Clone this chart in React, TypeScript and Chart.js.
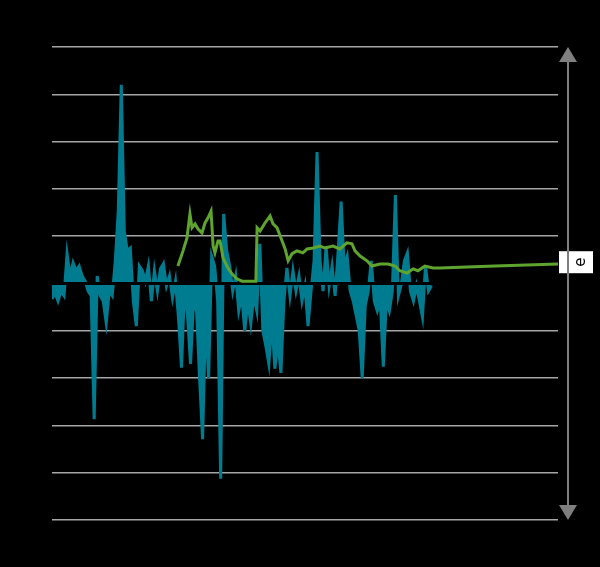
import React, { useEffect, useRef } from "react";
import { Chart, registerables } from "chart.js";

Chart.register(...registerables);

// Teal series: one value per step (x = 0, 1, 2, ...)
const tealValues = [
  -0.33, -0.2, -0.37, -0.16, -0.26, 0.63, 0.16, 0.44, 0.27, 0.37,
  0.16, 0.05, -0.16, -0.26, -2.87, 0.16, -0.26, -0.37, -0.83, -0.16,
  -0.26, 0.47, 1.53, 4.2, 1.11, 0.69, 0.75, -0.37, -0.9, 0.37,
  0.27, 0.05, 0.37, -0.37, 0.27, -0.16, 0.31, 0.42, -0.05, 0.16,
  -0.3, 0.05, -0.73, -1.78, -0.11, -0.68, -1.7, -0.37, -0.58, -2.0,
  -3.29, -0.68, -2.0, 0.58, 0.37, -0.37, -4.13, 1.47, 0.69, 0.37,
  -0.16, 0.16, -0.58, -0.26, -1.0, -0.37, -0.85, -0.26, -0.58, 0.84,
  -1.0, -1.32, -1.7, -0.79, -1.8, -1.21, -1.89, -0.37, 0.33, -0.26,
  0.27, -0.16, 0.16, -0.37, -0.05, -0.9, -0.16, 0.48, 2.78, 0.48,
  -0.16, 0.79, -0.05, 0.37, -0.26, 0.69, 1.73, 0.37, 0.58, -0.16,
  -0.37, -0.68, -1.0, -2.0, -0.47, -0.16, 0.48, -0.37, -0.58, -0.37,
  -1.76, -0.37, -0.58, -0.16, 1.87, -0.26, -0.01, 0.48, 0.65, -0.16,
  -0.37, -0.05, -0.37, -0.71, 0.37, -0.16, -0.05,
];

// Green series: x positions and values
const greenX = [
  41.8, 43.5, 44.8, 45.8, 46.5, 47.5, 48.5, 49.8, 50.8, 51.8, 52.8, 53.5,
  54.1, 55.1, 55.8, 56.8, 58.4, 59.8, 61.4, 63.1, 67.7, 68.1, 69.1, 70.7,
  72.4, 73.4, 74.7, 76.4, 77.4, 78.4, 79.7, 81.3, 83.3, 84.7, 86.7, 89.0,
  90.6, 93.3, 95.6, 97.9, 99.6, 100.6, 102.3, 104.6, 106.2, 108.9, 111.6,
  113.9, 115.5, 117.9, 119.9, 121.5, 123.8, 126.5, 128.8, 147.1, 168,
];
const greenValues = [
  0.37, 0.69, 0.96, 1.47, 1.18, 1.26, 1.15, 1.07, 1.28, 1.39, 1.53, 0.79,
  0.65, 0.9, 0.9, 0.54, 0.33, 0.2, 0.1, 0.05, 0.05, 1.18, 1.11, 1.28,
  1.43, 1.26, 1.18, 0.9, 0.73, 0.48, 0.63, 0.69, 0.65, 0.73, 0.75, 0.79,
  0.75, 0.79, 0.73, 0.86, 0.84, 0.69, 0.58, 0.48, 0.37, 0.41, 0.41,
  0.37, 0.27, 0.22, 0.31, 0.27, 0.37, 0.33, 0.33, 0.37, 0.41,
];

const xMin = 0;
const xMax = 168;
const yMin = -5;
const yMax = 5;
const axisLabel = "e";

const TEAL = "#007c91";
const GREEN = "#5fa42f";

export default function App() {
  const ref = useRef<HTMLCanvasElement | null>(null);

  useEffect(() => {
    document.body.style.margin = "0";
    document.body.style.background = "#000";
    const canvas = ref.current;
    if (!canvas) return;

    const zeroBand = {
      id: "zeroBand",
      afterDatasetDraw(chart: any, args: any) {
        if (args.index !== 1) return;
        const { ctx, chartArea, scales } = chart;
        const y0 = scales.y.getPixelForValue(0);
        ctx.save();
        ctx.fillStyle = "#000";
        ctx.fillRect(chartArea.left, y0 - 1.5, chartArea.right - chartArea.left, 3);
        ctx.restore();
      },
    };

    const sideArrow = {
      id: "sideArrow",
      afterDraw(chart: any) {
        const { ctx, chartArea, scales } = chart;
        const top = chartArea.top;
        const bottom = chartArea.bottom;
        const ax = chartArea.right + 10;
        const yLab = scales.y.getPixelForValue(0.45);
        ctx.save();
        ctx.fillStyle = "#fff";
        ctx.fillRect(ax - 9, yLab - 11, 34, 22);
        ctx.translate(ax + 13, yLab);
        ctx.rotate(-Math.PI / 2);
        ctx.fillStyle = "#000";
        ctx.font = "15px 'DejaVu Sans', sans-serif";
        ctx.textAlign = "center";
        ctx.textBaseline = "middle";
        ctx.fillText(axisLabel, 0, 0);
        ctx.setTransform(1, 0, 0, 1, 0, 0);
        ctx.strokeStyle = "#7f7f7f";
        ctx.lineWidth = 2;
        ctx.beginPath();
        ctx.moveTo(ax, top + 10);
        ctx.lineTo(ax, bottom - 10);
        ctx.stroke();
        ctx.fillStyle = "#7f7f7f";
        ctx.beginPath();
        ctx.moveTo(ax, top);
        ctx.lineTo(ax - 9, top + 15);
        ctx.lineTo(ax + 9, top + 15);
        ctx.closePath();
        ctx.fill();
        ctx.beginPath();
        ctx.moveTo(ax, bottom);
        ctx.lineTo(ax - 9, bottom - 15);
        ctx.lineTo(ax + 9, bottom - 15);
        ctx.closePath();
        ctx.fill();
        ctx.restore();
      },
    };

    const chart = new Chart(canvas, {
      type: "line",
      data: {
        datasets: [
          {
            label: "green",
            data: greenX.map((x, i) => ({ x, y: greenValues[i] })),
            borderColor: GREEN,
            borderWidth: 3,
            pointRadius: 0,
            fill: false,
            tension: 0,
          },
          {
            label: "teal",
            data: tealValues.map((v, i) => ({ x: i, y: v })),
            borderColor: TEAL,
            backgroundColor: TEAL,
            borderWidth: 3,
            pointRadius: 0,
            fill: "origin",
            tension: 0,
          },
        ],
      },
      options: {
        responsive: false,
        animation: false,
        layout: { padding: { left: 52, right: 42, top: 47, bottom: 47 } },
        plugins: { legend: { display: false }, tooltip: { enabled: false } },
        scales: {
          x: {
            type: "linear",
            min: xMin,
            max: xMax,
            display: false,
          },
          y: {
            min: yMin,
            max: yMax,
            ticks: { display: false, stepSize: 1 },
            border: { display: false },
            grid: {
              color: "#a6a6a6",
              lineWidth: 1.5,
              drawTicks: false,
            },
          },
        },
      },
      plugins: [zeroBand, sideArrow],
    });

    return () => chart.destroy();
  }, []);

  return (
    <div style={{ background: "#000", width: 600, height: 567 }}>
      <canvas ref={ref} width={600} height={567} style={{ display: "block" }} />
    </div>
  );
}
